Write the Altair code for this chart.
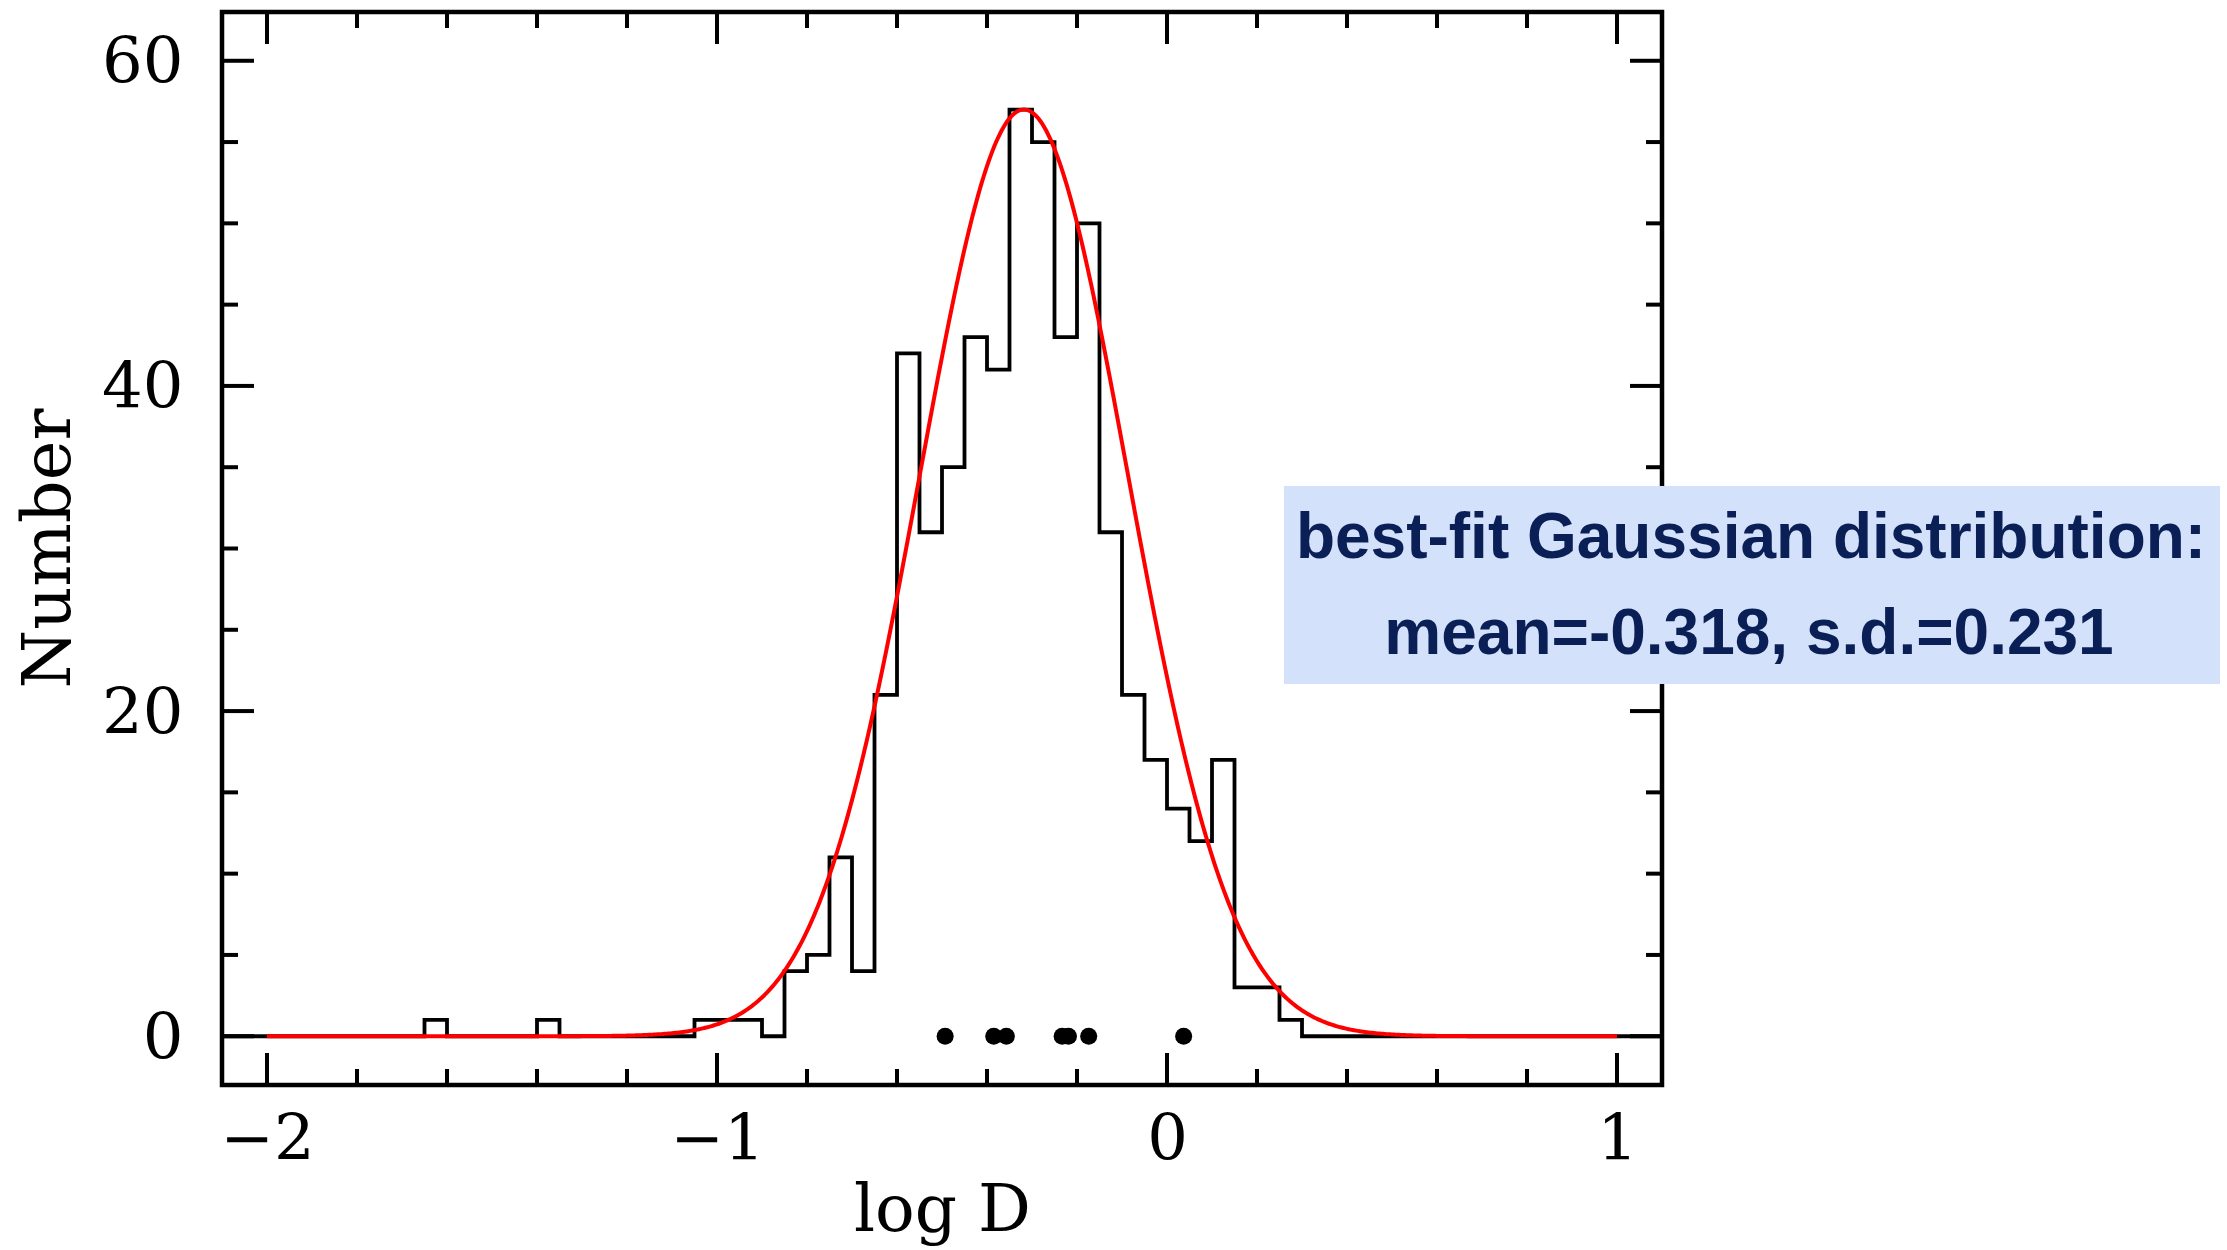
import altair as alt
import pandas as pd

# ---- data ----
x_domain = [-2.1, 1.1]
y_domain = [-3, 63]
x_major = [-2, -1, 0, 1]
x_minor = [-1.8, -1.6, -1.4, -1.2, -0.8, -0.6, -0.4, -0.2, 0.2, 0.4, 0.6, 0.8]
y_major = [0, 20, 40, 60]
y_minor = [5, 10, 15, 25, 30, 35, 45, 50, 55]

bin_start = -1.65
bin_width = 0.05
counts = [1, 0, 0, 0, 0, 1, 0, 0, 0, 0, 0, 0, 1, 1, 1, 0, 4, 5, 11, 4,
          21, 42, 31, 35, 43, 41, 57, 55, 43, 50, 31, 21, 17, 14, 12, 17, 3, 3, 1]

dot_x = [-0.493, -0.385, -0.357, -0.233, -0.219, -0.174, 0.037]
dot_y = [0, 0, 0, 0, 0, 0, 0]

gauss_mean = -0.318
gauss_sd = 0.231
gauss_peak = 57
gauss_range = [-2.0, 1.0]

note_lines = ["best-fit Gaussian distribution:", "mean=-0.318, s.d.=0.231"]

# ---- layout ----
W, H = 1440, 1073
MAJ, MIN = 32, 16
SERIF = "DejaVu Serif"

# histogram as step line
edges = [x_domain[0]] + [round(bin_start + i * bin_width, 3) for i in range(len(counts))]
vals = [0] + counts
end_edge = round(bin_start + len(counts) * bin_width, 3)
edges += [end_edge, x_domain[1]]
vals += [0, 0]
hist_df = pd.DataFrame({"x": edges, "n": vals})
dots_df = pd.DataFrame({"x": dot_x, "y": dot_y})

xscale = alt.Scale(domain=x_domain, nice=False, zero=False)
yscale = alt.Scale(domain=y_domain, nice=False, zero=False)

xaxis = alt.Axis(values=x_major, ticks=False, tickSize=0, domain=False, grid=False,
                 labelFont=SERIF, labelFontSize=64, labelColor="black", labelPadding=23,
                 labelFlush=False, labelOverlap=False,
                 title="log D", titleFont=SERIF, titleFontSize=66, titleFontWeight="normal",
                 titleColor="black", titleY=145, titleBaseline="alphabetic")
yaxis = alt.Axis(values=y_major, ticks=False, tickSize=0, domain=False, grid=False,
                 labelFont=SERIF, labelFontSize=64, labelColor="black", labelPadding=39,
                 labelOffset=3, labelFlush=False, labelOverlap=False,
                 title="Number", titleFont=SERIF, titleFontSize=67, titleFontWeight="normal",
                 titleColor="black", titleX=-153, titleY=536, titleAngle=270,
                 titleBaseline="alphabetic")

hist = alt.Chart(hist_df).mark_line(interpolate="step-after", color="black",
                                    strokeWidth=3.8, strokeJoin="miter").encode(
    x=alt.X("x:Q", scale=xscale, axis=xaxis),
    y=alt.Y("n:Q", scale=yscale, axis=yaxis),
)

gauss = alt.Chart(alt.sequence(gauss_range[0], gauss_range[1] + 0.0001, 0.004, as_="x")).transform_calculate(
    g=f"{gauss_peak} * exp(-0.5 * pow((datum.x - ({gauss_mean})) / {gauss_sd}, 2))"
).mark_line(color="#ff0000", strokeWidth=4).encode(
    x=alt.X("x:Q", scale=xscale, axis=xaxis),
    y=alt.Y("g:Q", scale=yscale, axis=yaxis),
)

dots = alt.Chart(dots_df).mark_circle(size=290, color="black", opacity=1).encode(
    x=alt.X("x:Q", scale=xscale, axis=xaxis),
    y=alt.Y("y:Q", scale=yscale, axis=yaxis),
)

def xticks(vals_, length):
    df = pd.DataFrame({"t": vals_})
    bottom = alt.Chart(df).mark_rule(color="black", strokeWidth=4).encode(
        x=alt.X("t:Q", scale=xscale, axis=xaxis), y=alt.value(H), y2=alt.value(H - length))
    top = alt.Chart(df).mark_rule(color="black", strokeWidth=4).encode(
        x=alt.X("t:Q", scale=xscale, axis=xaxis), y=alt.value(0), y2=alt.value(length))
    return [bottom, top]

def yticks(vals_, length):
    df = pd.DataFrame({"t": vals_})
    left = alt.Chart(df).mark_rule(color="black", strokeWidth=4).encode(
        y=alt.Y("t:Q", scale=yscale, axis=yaxis), x=alt.value(0), x2=alt.value(length))
    right = alt.Chart(df).mark_rule(color="black", strokeWidth=4).encode(
        y=alt.Y("t:Q", scale=yscale, axis=yaxis), x=alt.value(W), x2=alt.value(W - length))
    return [left, right]

tick_layers = xticks(x_major, MAJ) + xticks(x_minor, MIN) + yticks(y_major, MAJ) + yticks(y_minor, MIN)

note_df = pd.DataFrame({"line": note_lines, "k": list(range(len(note_lines)))})
box = alt.Chart(pd.DataFrame({"a": [0]})).mark_rect(color="#d4e1fa").encode(
    x=alt.value(1062), x2=alt.value(1998), y=alt.value(474), y2=alt.value(672))
note1 = alt.Chart(note_df.iloc[[0]]).mark_text(
    font="Liberation Sans", fontWeight="bold", fontSize=64, color="#0b1f57",
    align="center", baseline="alphabetic").encode(
    text="line:N", x=alt.value(1529), y=alt.value(546))
note2 = alt.Chart(note_df.iloc[[1]]).mark_text(
    font="Liberation Sans", fontWeight="bold", fontSize=64, color="#0b1f57",
    align="center", baseline="alphabetic").encode(
    text="line:N", x=alt.value(1527), y=alt.value(642))

chart = alt.layer(hist, gauss, dots, *tick_layers, box, note1, note2).properties(
    width=W, height=H,
    padding={"left": 222, "top": 12, "right": 565, "bottom": 165},
    autosize=alt.AutoSizeParams(type="none"),
    background="white",
).configure_view(stroke="black", strokeWidth=4.5)

chart.save("out.html", embed_options={"renderer": "svg", "actions": False})
